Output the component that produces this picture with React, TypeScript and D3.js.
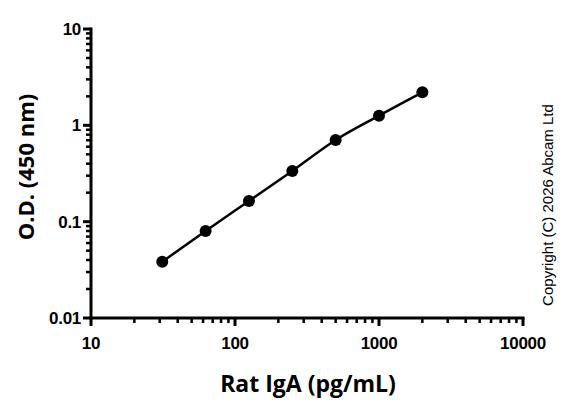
import { useEffect, useRef } from "react"
import * as d3 from "d3"

// Standard curve values
const concentrations = [31.25, 62.5, 125, 250, 500, 1000, 2000]
const odValues = [0.0384, 0.08, 0.164, 0.336, 0.705, 1.26, 2.2]
const xTickLabels = [10, 100, 1000, 10000]
const yTickLabels = [0.01, 0.1, 1, 10]

export default function App() {
  const svgRef = useRef<SVGSVGElement>(null)

  useEffect(() => {
    if (!svgRef.current) return
    document.body.style.margin = "0"

    const width = 582
    const height = 415
    const margin = { top: 29, right: 59, bottom: 97, left: 91 }

    const svg = d3.select(svgRef.current)
    svg.selectAll("*").remove()
    svg.attr("width", width).attr("height", height)

    const x = d3.scaleLog().domain([10, 10000]).range([margin.left, width - margin.right])
    const y = d3.scaleLog().domain([0.01, 10]).range([height - margin.bottom, margin.top])

    const tickFont = "'Liberation Sans', Arial, sans-serif"
    const labelFont = "'Open Sans', 'DejaVu Sans', sans-serif"

    // Minor ticks (all 1..9 multiples)
    const xMinor = x.ticks().filter((t) => !xTickLabels.includes(t))
    const yMinor = y.ticks().filter((t) => !yTickLabels.some((v) => Math.abs(v - t) < 1e-9))

    const axisG = svg.append("g").attr("stroke", "black").attr("fill", "none")

    // x axis
    const x0 = height - margin.bottom
    axisG
      .append("line")
      .attr("x1", margin.left - 1.5)
      .attr("x2", width - margin.right + 1.5)
      .attr("y1", x0)
      .attr("y2", x0)
      .attr("stroke-width", 3)
    axisG
      .selectAll(".xmaj")
      .data(xTickLabels)
      .enter()
      .append("line")
      .attr("x1", (d) => x(d))
      .attr("x2", (d) => x(d))
      .attr("y1", x0)
      .attr("y2", x0 + 8)
      .attr("stroke-width", 3)
    axisG
      .selectAll(".xmin")
      .data(xMinor)
      .enter()
      .append("line")
      .attr("x1", (d) => x(d))
      .attr("x2", (d) => x(d))
      .attr("y1", x0)
      .attr("y2", x0 + 5)
      .attr("stroke-width", 2.5)

    // y axis
    const y0 = margin.left
    axisG
      .append("line")
      .attr("x1", y0)
      .attr("x2", y0)
      .attr("y1", margin.top - 1.5)
      .attr("y2", height - margin.bottom + 1.5)
      .attr("stroke-width", 3)
    axisG
      .selectAll(".ymaj")
      .data(yTickLabels)
      .enter()
      .append("line")
      .attr("x1", y0 - 8)
      .attr("x2", y0)
      .attr("y1", (d) => y(d))
      .attr("y2", (d) => y(d))
      .attr("stroke-width", 3)
    axisG
      .selectAll(".ymin")
      .data(yMinor)
      .enter()
      .append("line")
      .attr("x1", y0 - 5)
      .attr("x2", y0)
      .attr("y1", (d) => y(d))
      .attr("y2", (d) => y(d))
      .attr("stroke-width", 2.5)

    // tick labels
    svg
      .selectAll(".xlab")
      .data(xTickLabels)
      .enter()
      .append("text")
      .attr("x", (d) => x(d))
      .attr("y", x0 + 31)
      .attr("text-anchor", "middle")
      .style("font-family", tickFont)
      .style("font-weight", "bold")
      .style("font-size", "17px")
      .style("letter-spacing", "-0.3px")
      .text((d) => String(d))

    svg
      .selectAll(".ylab")
      .data(yTickLabels)
      .enter()
      .append("text")
      .attr("x", y0 - 10)
      .attr("y", (d) => y(d) + 6)
      .attr("text-anchor", "end")
      .style("font-family", tickFont)
      .style("font-weight", "bold")
      .style("font-size", "17px")
      .style("letter-spacing", "-0.3px")
      .text((d) => String(d))

    // axis titles
    svg
      .append("text")
      .attr("x", 308)
      .attr("y", 392)
      .attr("text-anchor", "middle")
      .style("font-family", labelFont)
      .style("font-weight", "bold")
      .style("font-size", "23px")
      .text("Rat IgA (pg/mL)")

    svg
      .append("text")
      .attr("transform", "translate(34, 167) rotate(-90)")
      .attr("text-anchor", "middle")
      .style("font-family", labelFont)
      .style("font-weight", "bold")
      .style("font-size", "22px")
      .text("O.D. (450 nm)")

    svg
      .append("text")
      .attr("transform", "translate(553, 205) rotate(-90)")
      .attr("text-anchor", "middle")
      .style("font-family", tickFont)
      .style("font-size", "15px")
      .text("Copyright (C) 2026 Abcam Ltd")

    // curve and points
    const pts = concentrations.map((c, i) => [c, odValues[i]] as [number, number])
    const line = d3
      .line<[number, number]>()
      .x((d) => x(d[0]))
      .y((d) => y(d[1]))
      .curve(d3.curveMonotoneX)

    svg
      .append("path")
      .datum(pts)
      .attr("d", line)
      .attr("fill", "none")
      .attr("stroke", "black")
      .attr("stroke-width", 2.5)

    svg
      .selectAll(".pt")
      .data(pts)
      .enter()
      .append("circle")
      .attr("cx", (d) => x(d[0]))
      .attr("cy", (d) => y(d[1]))
      .attr("r", 6)
      .attr("fill", "black")
  }, [])

  return (
    <div style={{ position: "absolute", left: 0, top: 0 }}>
      <svg ref={svgRef} width={582} height={415}></svg>
    </div>
  )
}
